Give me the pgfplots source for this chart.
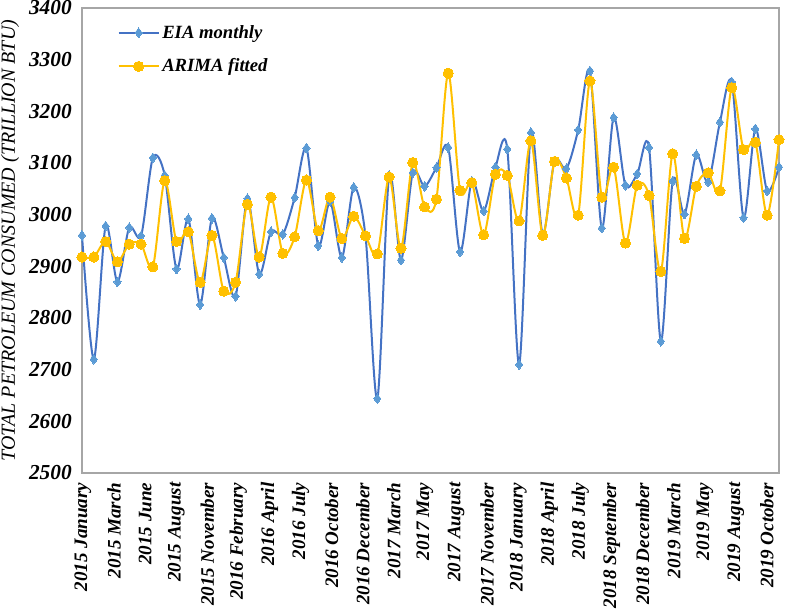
\documentclass[border=0pt]{standalone}
\usepackage{fontspec}
\setmainfont{Liberation Serif}
\usepackage{pgfplots}
\pgfplotsset{compat=1.18}
\definecolor{eialine}{HTML}{4472C4}
\definecolor{eiamark}{HTML}{5B9BD5}
\definecolor{arima}{HTML}{FFC000}
\definecolor{framegray}{HTML}{A6A6A6}

\begin{document}
\begin{tikzpicture}
\begin{axis}[
  name=ax,
  scale only axis,
  width=522.75pt,
  height=348.75pt,
  xmin=0, xmax=59,
  ymin=2500, ymax=3400,
  ytick={2500,2600,...,3400},
  xtick={0.08,2.71,5.34,7.98,10.61,13.24,15.87,18.50,21.14,23.77,26.40,29.03,
         31.66,34.30,36.93,39.56,42.19,44.82,47.46,50.09,52.72,55.35,57.98},
  xticklabels={2015 January,2015 March,2015 June,2015 August,2015 November,
    2016 February,2016 April,2016 July,2016 October,2016 December,2017 March,
    2017 May,2017 August,2017 November,2018 January,2018 April,2018 July,
    2018 September,2018 December,2019 March,2019 May,2019 August,2019 October},
  axis line style={framegray, line width=0.9pt},
  major tick length=0pt,
  /pgf/number format/assume math mode=true,
  /pgf/number format/1000 sep={},
  yticklabel style={font=\fontsize{16}{18}\selectfont\bfseries\itshape,
    inner sep=0pt, xshift=-7.5pt},
  xticklabel style={font=\fontsize{14.3}{17}\selectfont\bfseries\itshape,
    rotate=90, anchor=east, inner sep=0pt},
  xticklabel shift=7pt,
  ylabel={TOTAL PETROLEUM CONSUMED (TRILLION BTU)},
  ylabel style={font=\fontsize{15}{18}\selectfont\itshape, yshift=4pt},
  clip=false,
  legend style={at={(rel axis cs:0.045,0.975)}, anchor=north west, draw=none, fill=none,
    font=\fontsize{14}{17}\selectfont\bfseries\itshape, row sep=10pt},
  legend cell align=left,
  legend image code/.code={\draw[mark repeat=2,mark phase=2,#1]
    plot coordinates {(0pt,0pt) (15pt,0pt) (30pt,0pt)};},
]
\addplot[smooth, color=eialine, line width=1.5pt, mark=diamond*, mark size=3.6pt,
  mark options={fill=eiamark, draw=eiamark, line width=0pt}] coordinates {
  (0,2960) (1,2720) (2,2978) (3,2870) (4,2975) (5,2959) (6,3110) (7,3076)
  (8,2895) (9,2992) (10,2826) (11,2993) (12,2917) (13,2842) (14,3031) (15,2885)
  (16,2967) (17,2962) (18,3033) (19,3129) (20,2940) (21,3026) (22,2917) (23,3053)
  (24,2958) (25,2644) (26,3076) (27,2912) (28,3081) (29,3055) (30,3091) (31,3130)
  (32,2928) (33,3065) (34,3007) (35,3092) (36,3127) (37,2710) (38,3159) (39,2962)
  (40,3104) (41,3089) (42,3164) (43,3278) (44,2974) (45,3188) (46,3057) (47,3079)
  (48,3130) (49,2755) (50,3065) (51,3001) (52,3116) (53,3063) (54,3179) (55,3257)
  (56,2994) (57,3166) (58,3046) (59,3092)
};
\addlegendentry{EIA monthly}
\addplot[smooth, color=arima, line width=1.5pt, mark=*, mark size=3.8pt,
  mark options={fill=arima, draw=arima, line width=0pt}] coordinates {
  (0,2918) (1,2918) (2,2948) (3,2909) (4,2943) (5,2943) (6,2899) (7,3066)
  (8,2948) (9,2967) (10,2869) (11,2960) (12,2852) (13,2869) (14,3020) (15,2918)
  (16,3034) (17,2925) (18,2957) (19,3067) (20,2969) (21,3034) (22,2954) (23,2997)
  (24,2959) (25,2924) (26,3073) (27,2935) (28,3101) (29,3015) (30,3030) (31,3274)
  (32,3047) (33,3062) (34,2961) (35,3078) (36,3076) (37,2988) (38,3143) (39,2960)
  (40,3103) (41,3071) (42,2999) (43,3259) (44,3034) (45,3092) (46,2945) (47,3057)
  (48,3037) (49,2890) (50,3118) (51,2954) (52,3055) (53,3081) (54,3046) (55,3246)
  (56,3126) (57,3140) (58,2999) (59,3145)
};
\addlegendentry{ARIMA fitted}
\end{axis}
\pgfresetboundingbox
\path ([shift={(-61.5pt,-102.75pt)}]ax.south west)
  rectangle ([shift={(4.5pt,6pt)}]ax.north east);
\end{tikzpicture}
\end{document}
